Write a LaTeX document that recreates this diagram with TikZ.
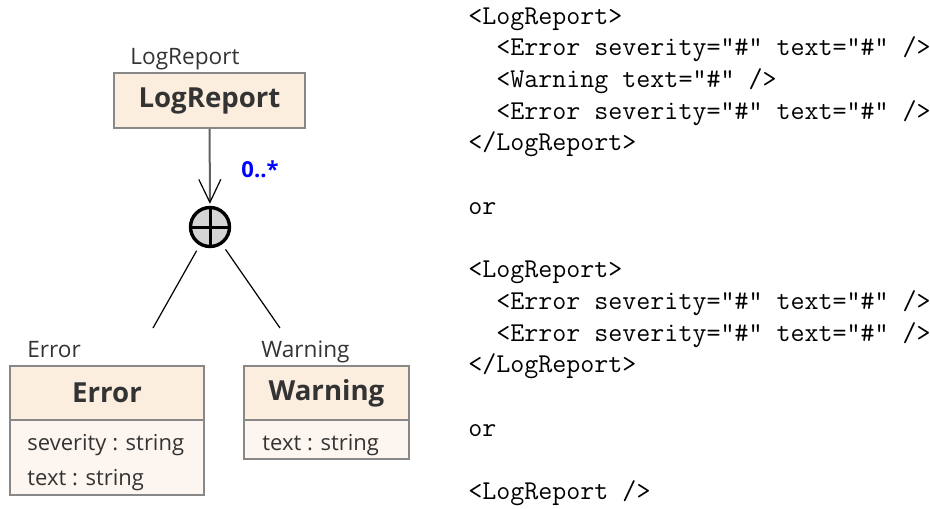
\documentclass[tikz,border=0pt]{standalone}
\usepackage{fontspec}
\newfontfamily\uifont{Open Sans}
\usetikzlibrary{arrows.meta,positioning}

\definecolor{headfill}{RGB}{251,238,223}
\definecolor{bodyfill}{RGB}{253,246,240}
\definecolor{boxline}{RGB}{136,136,136}
\definecolor{uitext}{RGB}{51,51,51}

\tikzset{
  classhead/.style={draw=boxline, line width=1pt, fill=headfill, inner sep=0pt,
    text=uitext, font=\uifont\bfseries\fontsize{13.8}{16}\selectfont},
  classbody/.style={draw=boxline, line width=1pt, fill=bodyfill, inner sep=0pt},
  classname/.style={anchor=base west, inner sep=0pt, text=uitext,
    font=\uifont\fontsize{11.3}{13}\selectfont},
  attr/.style={anchor=base west, inner sep=0pt, text=uitext,
    font=\uifont\fontsize{11}{13}\selectfont},
  link/.style={line width=0.6pt, black}
}

\begin{document}
\begin{tikzpicture}[x=0.5pt,y=-0.5pt]
    \useasboundingbox (0,0) rectangle (930,508);

    % Root element
    \node[classhead, minimum width=95.5pt, minimum height=27.5pt] (logrep) at (209.5,100.5) {LogReport};
    \node[classname] (logrepname) at (130,65) {LogReport};

    % Choice
    \node[circle, draw=black, line width=1.7pt, fill=black!17, minimum size=19.5pt, inner sep=0pt] (choice) at (210,227) {};
    \draw[line width=1.5pt] (choice.north) -- (choice.south);
    \draw[line width=1.5pt] (choice.west) -- (choice.east);
    \draw[line width=1pt, draw=black!62, -{Straight Barb[length=11.5pt, width=11pt, line width=0.6pt, black]}, shorten >=1pt] (logrep) -- (choice);
    \node[inner sep=0pt, text=blue, font=\uifont\bfseries\fontsize{11}{13}\selectfont] (mult) at (260,169) {0..*};

    % Children
    \coordinate (errend) at (153,328);
    \coordinate (warnend) at (280,328);
    \draw[link, shorten <=3pt] (choice) -- (errend);
    \draw[link, shorten <=3pt] (choice) -- (warnend);

    \node[classname] (errname) at (27,357) {Error};
    \node[classbody, minimum width=97pt, minimum height=37.5pt] (errbody) at (107,457.5) {};
    \node[classhead, minimum width=97pt, minimum height=27pt] (errhead) at (107,393) {Error};
    \node[attr] (errsev) at (27,450) {severity : string};
    \node[attr] (errtext) at (27,485) {text : string};

    \node[classname] (warnname) at (261,357) {Warning};
    \node[classbody, minimum width=82.5pt, minimum height=19.5pt] (warnbody) at (326.5,439.5) {};
    \node[classhead, minimum width=82.5pt, minimum height=27pt] (warnhead) at (326.5,393) {Warning};
    \node[attr] (warntext) at (262,450) {text : string};

    % XML samples
    \node[anchor=north west, inner sep=0pt, align=left,
      font=\ttfamily\fontsize{13.6}{15.85}\selectfont] (xml) at (468,7) {%
<LogReport>\\
\phantom{xx}<Error severity="\#" text="\#" />\\
\phantom{xx}<Warning text="\#" />\\
\phantom{xx}<Error severity="\#" text="\#" />\\
</LogReport>\\
\strut\\
or\\
\strut\\
<LogReport>\\
\phantom{xx}<Error severity="\#" text="\#" />\\
\phantom{xx}<Error severity="\#" text="\#" />\\
</LogReport>\\
\strut\\
or\\
\strut\\
<LogReport />};
\end{tikzpicture}
\end{document}
